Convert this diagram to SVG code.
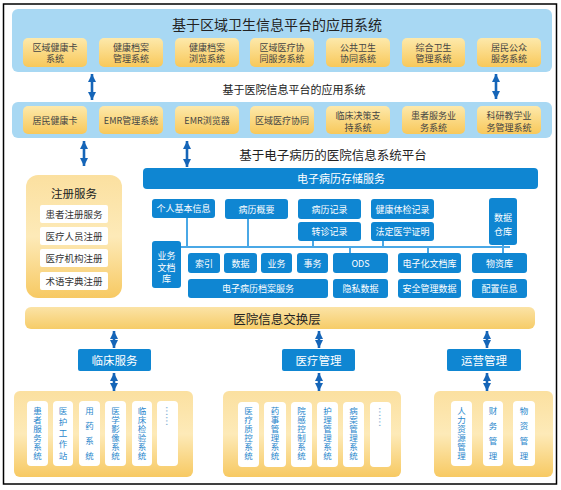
<svg xmlns="http://www.w3.org/2000/svg" width="561" height="490" viewBox="0 0 561 490">
<defs>
<linearGradient id="gY" x1="0" y1="0" x2="0" y2="1"><stop offset="0" stop-color="#fde9ab"/><stop offset="1" stop-color="#f8c85a"/></linearGradient>
<linearGradient id="gP" x1="0" y1="0" x2="0" y2="1"><stop offset="0" stop-color="#fbe0a0"/><stop offset="0.5" stop-color="#fdeab8"/><stop offset="1" stop-color="#f7c962"/></linearGradient>
<linearGradient id="gX" x1="0" y1="0" x2="0" y2="1"><stop offset="0" stop-color="#fbe3a6"/><stop offset="1" stop-color="#f6cc68"/></linearGradient>
<marker id="ah" viewBox="0 0 10 10" refX="10" refY="5" markerWidth="8" markerHeight="8" markerUnits="userSpaceOnUse" orient="auto-start-reverse"><path d="M0,0 L10,5 L0,10 z" fill="#1565b8"/></marker>
</defs>
<style>
text{font-family:"Noto Sans CJK SC","Noto Sans",sans-serif;}
.panel{fill:#a8d8f3;}
.yb{fill:url(#gY);}
.yt{font-size:9px;fill:#444;text-anchor:middle;}
.bb{fill:#0f86d2;}
.bt{font-size:9px;fill:#fff;text-anchor:middle;}
.wb{fill:#fff;}
.vt{font-size:8.5px;fill:#1f86cc;text-anchor:middle;}
.rt{font-size:9.5px;fill:#333;text-anchor:middle;}
.arr{stroke:#1565b8;stroke-width:2.6;fill:none;marker-start:url(#ah);marker-end:url(#ah);}
.bus{stroke:#4aa8e6;stroke-width:2;fill:none;}
.title{fill:#222;text-anchor:middle;}
.dots{font-size:12px;fill:#8fb6d6;font-family:"Liberation Sans",sans-serif;}
</style>
<rect x="3.5" y="4" width="553" height="480" fill="#fff" stroke="#000" stroke-width="1.5"/>

<g id="regional-platform">
<rect class="panel" x="12" y="9" width="540" height="63" rx="6"/>
<text class="title" x="277" y="30" font-size="14">基于区域卫生信息平台的应用系统</text>
</g>
<g id="r1"><rect class="yb" x="23" y="38" width="64" height="29" rx="5"/><text class="yt" x="55" y="51">区域健康卡</text><text class="yt" x="55" y="62">系统</text></g>
<g id="r2"><rect class="yb" x="99" y="38" width="64" height="29" rx="5"/><text class="yt" x="131" y="51">健康档案</text><text class="yt" x="131" y="62">管理系统</text></g>
<g id="r3"><rect class="yb" x="175" y="38" width="64" height="29" rx="5"/><text class="yt" x="207" y="51">健康档案</text><text class="yt" x="207" y="62">浏览系统</text></g>
<g id="r4"><rect class="yb" x="250" y="38" width="64" height="29" rx="5"/><text class="yt" x="282" y="51">区域医疗协</text><text class="yt" x="282" y="62">同服务系统</text></g>
<g id="r5"><rect class="yb" x="326" y="38" width="64" height="29" rx="5"/><text class="yt" x="358" y="51">公共卫生</text><text class="yt" x="358" y="62">协同系统</text></g>
<g id="r6"><rect class="yb" x="402" y="38" width="63" height="29" rx="5"/><text class="yt" x="433.5" y="51">综合卫生</text><text class="yt" x="433.5" y="62">管理系统</text></g>
<g id="r7"><rect class="yb" x="477" y="38" width="64" height="29" rx="5"/><text class="yt" x="509" y="51">居民公众</text><text class="yt" x="509" y="62">服务系统</text></g>

<g id="hospital-apps">
<text class="title" x="294" y="94" font-size="11">基于医院信息平台的应用系统</text>
<rect class="panel" x="12" y="102" width="540" height="36" rx="6"/>
</g>
<g id="h1"><rect class="yb" x="23" y="106" width="64" height="28" rx="5"/><text class="yt" x="55" y="123.5">居民健康卡</text></g>
<g id="h2"><rect class="yb" x="99" y="106" width="64" height="28" rx="5"/><text class="yt" x="131" y="123.5">EMR管理系统</text></g>
<g id="h3"><rect class="yb" x="175" y="106" width="64" height="28" rx="5"/><text class="yt" x="207" y="123.5">EMR浏览器</text></g>
<g id="h4"><rect class="yb" x="250" y="106" width="64" height="28" rx="5"/><text class="yt" x="282" y="123.5">区域医疗协同</text></g>
<g id="h5"><rect class="yb" x="326" y="106" width="64" height="28" rx="5"/><text class="yt" x="358" y="118.5">临床决策支</text><text class="yt" x="358" y="131">持系统</text></g>
<g id="h6"><rect class="yb" x="402" y="106" width="63" height="28" rx="5"/><text class="yt" x="433.5" y="118.5">患者服务业</text><text class="yt" x="433.5" y="131">务系统</text></g>
<g id="h7"><rect class="yb" x="477" y="106" width="64" height="28" rx="5"/><text class="yt" x="509" y="118.5">科研教学业</text><text class="yt" x="509" y="131">务管理系统</text></g>

<text class="title" x="333" y="160" font-size="12.5">基于电子病历的医院信息系统平台</text>

<g id="registration">
<rect x="26" y="175" width="96" height="123" rx="12" fill="url(#gP)"/>
<text class="title" x="74" y="197.5" font-size="11.5">注册服务</text>
<rect class="wb" x="40" y="205" width="68" height="18" rx="2"/><text class="rt" x="74" y="217.5">患者注册服务</text>
<rect class="wb" x="40" y="227" width="68" height="18" rx="2"/><text class="rt" x="74" y="239.5">医疗人员注册</text>
<rect class="wb" x="40" y="249" width="68" height="18" rx="2"/><text class="rt" x="74" y="261.5">医疗机构注册</text>
<rect class="wb" x="40" y="272" width="68" height="18" rx="2"/><text class="rt" x="74" y="284.5">术语字典注册</text>
</g>

<g id="emr-storage"><rect class="bb" x="143" y="168" width="395" height="21" rx="4"/><text x="297" y="183" font-size="11" fill="#fff">电子病历存储服务</text></g>
<g id="b-personal"><rect class="bb" x="152" y="199" width="63" height="19" rx="3"/><text class="bt" x="183.5" y="212">个人基本信息</text></g>
<g id="b-summary"><rect class="bb" x="225" y="199" width="63" height="20" rx="3"/><text class="bt" x="256.5" y="212.5">病历概要</text></g>
<g id="b-record"><rect class="bb" x="298" y="199" width="63" height="20" rx="3"/><text class="bt" x="329.5" y="212.5">病历记录</text></g>
<g id="b-referral"><rect class="bb" x="298" y="222" width="63" height="19" rx="3"/><text class="bt" x="329.5" y="235">转诊记录</text></g>
<g id="b-checkup"><rect class="bb" x="371" y="199" width="63" height="20" rx="3"/><text class="bt" x="402.5" y="212.5">健康体检记录</text></g>
<g id="b-legal"><rect class="bb" x="371" y="222" width="63" height="19" rx="3"/><text class="bt" x="402.5" y="235">法定医学证明</text></g>
<g id="b-warehouse"><rect class="bb" x="489" y="198" width="28" height="47" rx="3"/><text class="bt" x="503" y="220.5" font-size="9.5">数据</text><text class="bt" x="503" y="234.5" font-size="9.5">仓库</text></g>
<g id="b-docstore"><rect class="bb" x="152" y="241" width="29" height="47" rx="3"/><text class="bt" x="166.5" y="258.5" font-size="9.5">业务</text><text class="bt" x="166.5" y="270.5" font-size="9.5">文档</text><text class="bt" x="166.5" y="282" font-size="9.5">库</text></g>
<g id="b-index"><rect class="bb" x="188" y="253" width="32" height="20" rx="3"/><text class="bt" x="204" y="266.5">索引</text></g>
<g id="b-data"><rect class="bb" x="224" y="253" width="33" height="20" rx="3"/><text class="bt" x="240.5" y="266.5">数据</text></g>
<g id="b-biz"><rect class="bb" x="261" y="253" width="31" height="20" rx="3"/><text class="bt" x="276.5" y="266.5">业务</text></g>
<g id="b-affair"><rect class="bb" x="297" y="253" width="31" height="20" rx="3"/><text class="bt" x="312.5" y="266.5">事务</text></g>
<g id="b-ods"><rect class="bb" x="333" y="253" width="55" height="20" rx="3"/><text class="bt" x="360.5" y="266.5">ODS</text></g>
<g id="b-edoc"><rect class="bb" x="398" y="253" width="63" height="20" rx="3"/><text class="bt" x="429.5" y="266.5" font-size="9.5">电子化文档库</text></g>
<g id="b-material"><rect class="bb" x="472" y="253" width="55" height="20" rx="3"/><text class="bt" x="499.5" y="266.5" font-size="9.5">物资库</text></g>
<g id="b-archive"><rect class="bb" x="188" y="279" width="140" height="19" rx="3"/><text class="bt" x="258" y="292">电子病历档案服务</text></g>
<g id="b-privacy"><rect class="bb" x="333" y="279" width="55" height="19" rx="3"/><text class="bt" x="360.5" y="292" font-size="9.5">隐私数据</text></g>
<g id="b-security"><rect class="bb" x="398" y="279" width="63" height="19" rx="3"/><text class="bt" x="429.5" y="292" font-size="9.5">安全管理数据</text></g>
<g id="b-config"><rect class="bb" x="472" y="279" width="55" height="19" rx="3"/><text class="bt" x="499.5" y="292" font-size="9.5">配置信息</text></g>

<g id="exchange"><rect x="25" y="307" width="510" height="22" rx="6" fill="url(#gX)"/><text class="title" x="277" y="323.5" font-size="12.5">医院信息交换层</text></g>

<g id="clinical"><rect class="bb" x="78" y="349" width="73" height="22" rx="2"/><text x="114.5" y="364.5" font-size="11.5" fill="#fff" text-anchor="middle">临床服务</text></g>
<g id="medmgmt"><rect class="bb" x="282" y="349" width="73" height="22" rx="2"/><text x="318.5" y="364.5" font-size="11.5" fill="#fff" text-anchor="middle">医疗管理</text></g>
<g id="ops"><rect class="bb" x="447" y="349" width="74" height="22" rx="2"/><text x="484" y="364.5" font-size="11.5" fill="#fff" text-anchor="middle">运营管理</text></g>

<g id="clinical-systems">
<rect x="14" y="391" width="179" height="86" rx="6" fill="url(#gP)"/>
<rect class="wb" x="27" y="401" width="21" height="65" rx="4"/>
<text class="vt"><tspan x="37.5" y="413.5">患</tspan><tspan x="37.5" y="422.5">者</tspan><tspan x="37.5" y="431.5">服</tspan><tspan x="37.5" y="440.5">务</tspan><tspan x="37.5" y="449.5">系</tspan><tspan x="37.5" y="458.5">统</tspan></text>
<rect class="wb" x="53" y="401" width="20" height="65" rx="4"/>
<text class="vt"><tspan x="63" y="413.5">医</tspan><tspan x="63" y="424.75">护</tspan><tspan x="63" y="436">工</tspan><tspan x="63" y="447.25">作</tspan><tspan x="63" y="458.5">站</tspan></text>
<rect class="wb" x="79" y="401" width="21" height="65" rx="4"/>
<text class="vt"><tspan x="89.5" y="413.5">用</tspan><tspan x="89.5" y="428.5">药</tspan><tspan x="89.5" y="443.5">系</tspan><tspan x="89.5" y="458.5">统</tspan></text>
<rect class="wb" x="105" y="401" width="21" height="65" rx="4"/>
<text class="vt"><tspan x="115.5" y="413.5">医</tspan><tspan x="115.5" y="422.5">学</tspan><tspan x="115.5" y="431.5">影</tspan><tspan x="115.5" y="440.5">像</tspan><tspan x="115.5" y="449.5">系</tspan><tspan x="115.5" y="458.5">统</tspan></text>
<rect class="wb" x="132" y="401" width="20" height="65" rx="4"/>
<text class="vt"><tspan x="142" y="413.5">临</tspan><tspan x="142" y="422.5">床</tspan><tspan x="142" y="431.5">检</tspan><tspan x="142" y="440.5">验</tspan><tspan x="142" y="449.5">系</tspan><tspan x="142" y="458.5">统</tspan></text>
<rect class="wb" x="157" y="401" width="21" height="65" rx="4"/>
<text class="dots" transform="translate(166,406) rotate(90)">......</text>
</g>

<g id="med-systems">
<rect x="223" y="391" width="178" height="86" rx="6" fill="url(#gP)"/>
<rect class="wb" x="238" y="402" width="21" height="65" rx="4"/>
<text class="vt"><tspan x="248.5" y="414">医</tspan><tspan x="248.5" y="423">疗</tspan><tspan x="248.5" y="432">质</tspan><tspan x="248.5" y="441">控</tspan><tspan x="248.5" y="450">系</tspan><tspan x="248.5" y="459">统</tspan></text>
<rect class="wb" x="264" y="402" width="22" height="65" rx="4"/>
<text class="vt"><tspan x="275" y="414">药</tspan><tspan x="275" y="423">事</tspan><tspan x="275" y="432">管</tspan><tspan x="275" y="441">理</tspan><tspan x="275" y="450">系</tspan><tspan x="275" y="459">统</tspan></text>
<rect class="wb" x="291" y="402" width="21" height="65" rx="4"/>
<text class="vt"><tspan x="301.5" y="414">院</tspan><tspan x="301.5" y="423">感</tspan><tspan x="301.5" y="432">控</tspan><tspan x="301.5" y="441">制</tspan><tspan x="301.5" y="450">系</tspan><tspan x="301.5" y="459">统</tspan></text>
<rect class="wb" x="317" y="402" width="21" height="65" rx="4"/>
<text class="vt"><tspan x="327.5" y="414">护</tspan><tspan x="327.5" y="423">理</tspan><tspan x="327.5" y="432">管</tspan><tspan x="327.5" y="441">理</tspan><tspan x="327.5" y="450">系</tspan><tspan x="327.5" y="459">统</tspan></text>
<rect class="wb" x="343" y="402" width="21" height="65" rx="4"/>
<text class="vt"><tspan x="353.5" y="414">病</tspan><tspan x="353.5" y="423">案</tspan><tspan x="353.5" y="432">管</tspan><tspan x="353.5" y="441">理</tspan><tspan x="353.5" y="450">系</tspan><tspan x="353.5" y="459">统</tspan></text>
<rect class="wb" x="370" y="402" width="21" height="65" rx="4"/>
<text class="dots" transform="translate(379,407) rotate(90)">......</text>
</g>

<g id="ops-systems">
<rect x="434" y="391" width="119" height="86" rx="6" fill="url(#gP)"/>
<rect class="wb" x="451" y="401" width="21" height="65" rx="4"/>
<text class="vt"><tspan x="461.5" y="413.5">人</tspan><tspan x="461.5" y="422.5">力</tspan><tspan x="461.5" y="431.5">资</tspan><tspan x="461.5" y="440.5">源</tspan><tspan x="461.5" y="449.5">管</tspan><tspan x="461.5" y="458.5">理</tspan></text>
<rect class="wb" x="483" y="401" width="20" height="65" rx="4"/>
<text class="vt"><tspan x="493" y="413.5">财</tspan><tspan x="493" y="428.5">务</tspan><tspan x="493" y="443.5">管</tspan><tspan x="493" y="458.5">理</tspan></text>
<rect class="wb" x="513" y="401" width="22" height="65" rx="4"/>
<text class="vt"><tspan x="524" y="413.5">物</tspan><tspan x="524" y="428.5">资</tspan><tspan x="524" y="443.5">管</tspan><tspan x="524" y="458.5">理</tspan></text>
</g>

<g id="connectors">
<line class="arr" x1="92" y1="74" x2="92" y2="100"/>
<line class="arr" x1="496" y1="74" x2="496" y2="99"/>
<line class="arr" x1="84" y1="141" x2="84" y2="166"/>
<line class="arr" x1="187" y1="141" x2="187" y2="167"/>
<line class="arr" x1="114" y1="331" x2="114" y2="348"/>
<line class="arr" x1="114" y1="373" x2="114" y2="391"/>
<line class="arr" x1="319" y1="331" x2="319" y2="348"/>
<line class="arr" x1="319" y1="373" x2="319" y2="391"/>
<line class="arr" x1="487" y1="331" x2="487" y2="348"/>
<line class="arr" x1="487" y1="373" x2="487" y2="391"/>
<path class="bus" d="M181,247 H510 M187,218 V247 M248,219 V247 M313,241 V247 M383,241 V247 M503,245 V247 M350,247 V253 M428,247 V253 M503,247 V253"/>
</g>
</svg>
